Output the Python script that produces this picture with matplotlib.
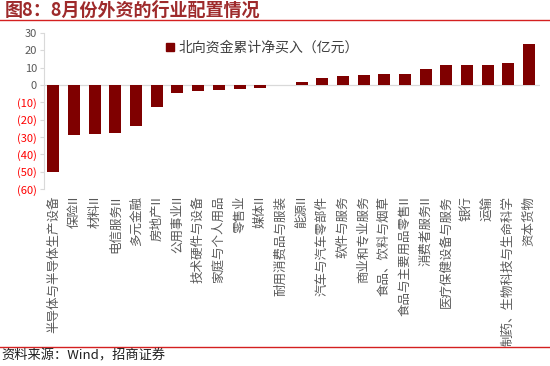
import matplotlib
matplotlib.use('Agg')
import matplotlib.pyplot as plt
from matplotlib.lines import Line2D
from matplotlib.patches import Patch

plt.rcParams['font.family'] = ['Noto Sans CJK SC', 'DejaVu Sans']

# Data
industries = ['半导体与半导体生产设备', '保险II', '材料II', '电信服务II', '多元金融', '房地产II',
              '公用事业II', '技术硬件与设备', '家庭与个人用品', '零售业', '媒体II', '耐用消费品与服装',
              '能源II', '汽车与汽车零部件', '软件与服务', '商业和专业服务', '食品、饮料与烟草',
              '食品与主要用品零售II', '消费者服务II', '医疗保健设备与服务', '银行', '运输',
              '制药、生物科技与生命科学', '资本货物']
net_buy = [-50.0, -28.8, -28.3, -27.9, -23.8, -12.9,
           -4.6, -3.5, -3.1, -2.3, -1.5, -0.2,
           1.7, 4.2, 5.0, 5.8, 6.2,
           6.5, 9.2, 11.5, 11.5, 11.7,
           12.9, 23.8]
y_ticks = [30, 20, 10, 0, -10, -20, -30, -40, -50, -60]

bar_color = '#7F0000'
grey = '#595959'

fig = plt.figure(figsize=(5.5, 3.66), dpi=100)
ax = fig.add_axes([0.08, 0.4836, 0.902, 0.4262])

x = list(range(len(industries)))
ax.bar(x, net_buy, width=0.58, color=bar_color, zorder=3)
ax.axhline(0, color='#D9D9D9', lw=0.9, zorder=2)

ax.set_xlim(-0.45, len(industries) - 0.47)
ax.set_ylim(-60, 30)
ax.set_yticks(y_ticks)
ax.set_yticklabels([str(v) if v >= 0 else '(%d)' % -v for v in y_ticks])
for lbl, v in zip(ax.get_yticklabels(), y_ticks):
    lbl.set_color(grey if v >= 0 else '#FF0000')
    lbl.set_fontsize(8)
ax.tick_params(axis='y', length=3, color='#D9D9D9', pad=2)

ax.set_xticks(x)
ax.set_xticklabels(industries, rotation=90, fontsize=9, color=grey, va='top')
ax.tick_params(axis='x', length=0, pad=5)

for side in ['top', 'right', 'bottom']:
    ax.spines[side].set_visible(False)
ax.spines['left'].set_color('#D9D9D9')

ax.legend(handles=[Patch(color=bar_color, label='北向资金累计净买入（亿元）')],
          loc='upper left', bbox_to_anchor=(0.22, 1.03), frameon=False,
          fontsize=10, handlelength=0.6, handleheight=0.6, handletextpad=0.3,
          labelcolor='#404040')

# Header and footer
fig.text(0.008, 0.972, '图8：8月份外资的行业配置情况', fontsize=13, fontweight='bold',
         color='#9E2A2B', va='center', ha='left')
fig.add_artist(Line2D([0, 1], [0.945, 0.945], color='#D42020', lw=1.0))
fig.add_artist(Line2D([0, 1], [0.052, 0.052], color='#D42020', lw=1.0))
fig.text(0.003, 0.027, '资料来源：Wind，招商证券', fontsize=9.5, color='#202020',
         va='center', ha='left')

fig.savefig('out.png', dpi=100)
